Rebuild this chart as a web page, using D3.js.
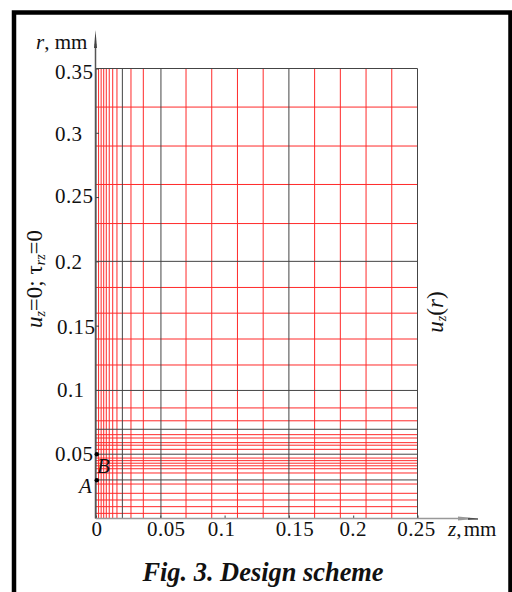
<!DOCTYPE html>
<html><head><meta charset="utf-8">
<script src="https://cdn.jsdelivr.net/npm/d3@7/dist/d3.min.js"></script>
<style>html,body{margin:0;padding:0;background:#fff}svg{display:block}
text{font-family:"Liberation Serif",serif;fill:#111}</style></head>
<body><svg id="c" width="512" height="592"></svg>
<script>
const zTicks=[0,0.05,0.1,0.15,0.2,0.25];
const rTicks=[0.05,0.1,0.15,0.2,0.25,0.3,0.35];
const zRed=[0.002,0.004,0.006,0.008,0.0103,0.013,0.0163,0.0272,0.0368,0.07,0.09,0.11,0.13,0.17,0.19,0.21,0.23];
const zBlack=[0,0.0205,0.0505,0.15,0.25];
const rRed=[0.004,0.0092,0.0144,0.0196,0.0268,0.0354,0.0387,0.041,0.043,0.045,0.047,0.0538,0.057,0.059,0.0626,0.0652,0.076,0.086,0.1194,0.1396,0.1597,0.1797,0.2294,0.2598,0.2897,0.32];
const rBlack=[0.03,0.05,0.0694,0.0996,0.2,0.35];
const points=[{name:"A",z:0.0006,r:0.0298},{name:"B",z:0.0006,r:0.05}];

const svg=d3.select("#c");
const x=d3.scaleLinear().domain([0,0.25]).range([96,417.5]);
const y=d3.scaleLinear().domain([0,0.35]).range([518.5,68.5]);

// frame
svg.append("path").attr("d","M14,592V12.5H510.5V592").attr("fill","none").attr("stroke","#000").attr("stroke-width",4.5);

const g=svg.append("g");
g.selectAll(".vr").data(zRed).join("line").attr("x1",d=>x(d)).attr("x2",d=>x(d)).attr("y1",y(0)).attr("y2",y(0.35)).attr("stroke","#ff2a2a").attr("stroke-width",1);
g.selectAll(".hr").data(rRed).join("line").attr("y1",d=>y(d)).attr("y2",d=>y(d)).attr("x1",x(0)).attr("x2",x(0.25)).attr("stroke","#ff2a2a").attr("stroke-width",1);
g.selectAll(".vb").data(zBlack).join("line").attr("x1",d=>x(d)).attr("x2",d=>x(d)).attr("y1",y(0)).attr("y2",y(0.35)).attr("stroke","#444").attr("stroke-width",1);
g.selectAll(".hb").data(rBlack).join("line").attr("y1",d=>y(d)).attr("y2",d=>y(d)).attr("x1",x(0)).attr("x2",x(0.25)).attr("stroke","#444").attr("stroke-width",1);

// tick marks from D3 axes (labels drawn separately)
const ax=svg.append("g").attr("transform","translate(0,518.5)").call(d3.axisBottom(x).tickValues(zTicks).tickSize(-3).tickFormat(""));
const ay=svg.append("g").attr("transform","translate(96,0)").call(d3.axisLeft(y).tickValues(rTicks).tickSize(-3).tickFormat(""));
ax.select(".domain").remove();ay.select(".domain").remove();
svg.selectAll(".tick line").attr("stroke","#444");

// axes with arrows
svg.append("line").attr("x1",95.5).attr("x2",95.5).attr("y1",y(0)).attr("y2",44).attr("stroke","#555").attr("stroke-width",1.5);
svg.append("path").attr("d","M95.5,30L97,48H94Z").attr("fill","#444");
svg.append("line").attr("x1",96).attr("x2",470).attr("y1",518.5).attr("y2",518.5).attr("stroke","#999").attr("stroke-width",1.5);
svg.append("path").attr("d","M458,516.5L478,518.5L458,520.5Z").attr("fill","#999");
svg.append("line").attr("x1",468).attr("x2",478).attr("y1",519).attr("y2",519).attr("stroke","#000").attr("stroke-width",1);

// tick labels
const xLabelDx=[1,6,-3,6,0,-1];
const yLabelX=[55,57,57,55,55,55,55];
const yLabelDy=[0,0,1.5,1,-1,1,3.5];
const fmt=d=>d===0?"0":String(d);
svg.append("g").selectAll("text").data(zTicks).join("text")
 .attr("x",(d,i)=>x(d)+xLabelDx[i]).attr("y",536).attr("text-anchor","middle").attr("font-size",21).attr("letter-spacing",0.4).text(fmt);
svg.append("g").selectAll("text").data(rTicks).join("text")
 .attr("x",(d,i)=>yLabelX[i]).attr("y",(d,i)=>y(d)+yLabelDy[i]+7).attr("font-size",21).attr("letter-spacing",0.4).text(fmt);

// axis names
const t1=svg.append("text").attr("x",36).attr("y",49).attr("font-size",21);
t1.append("tspan").attr("font-style","italic").text("r");t1.append("tspan").text(", mm");
const t2=svg.append("text").attr("x",448).attr("y",536).attr("font-size",21).attr("word-spacing",-3);
t2.append("tspan").attr("font-style","italic").text("z");t2.append("tspan").text(", mm");

// points
svg.selectAll("circle").data(points).join("circle").attr("cx",d=>x(d.z)).attr("cy",d=>y(d.r)).attr("r",2.2).attr("fill","#000");
svg.append("text").attr("x",79).attr("y",493).attr("font-size",21).attr("font-style","italic").text("A");
svg.append("text").attr("x",97).attr("y",473).attr("font-size",21).attr("font-style","italic").text("B");

// rotated labels
const t3=svg.append("text").attr("transform","translate(42,279) rotate(-90)").attr("text-anchor","middle").attr("font-size",23);
t3.append("tspan").attr("font-style","italic").text("u");
t3.append("tspan").attr("font-style","italic").attr("font-size",14).attr("dy",3).text("z");
t3.append("tspan").attr("dy",-3).text("=0; τ");
t3.append("tspan").attr("font-style","italic").attr("font-size",14).attr("dy",3).text("rz");
t3.append("tspan").attr("dy",-3).text("=0");
const t4=svg.append("text").attr("transform","translate(443,312) rotate(-90)").attr("text-anchor","middle").attr("font-size",23);
t4.append("tspan").attr("font-style","italic").text("u");
t4.append("tspan").attr("font-style","italic").attr("font-size",14).attr("dy",3).text("z");
t4.append("tspan").attr("dy",-3).text("(");
t4.append("tspan").attr("font-style","italic").text("r");
t4.append("tspan").text(")");

// title
svg.append("text").attr("x",263).attr("y",581).attr("text-anchor","middle").attr("font-size",26.4).attr("font-weight","bold").attr("font-style","italic").text("Fig. 3. Design scheme");
</script></body></html>
